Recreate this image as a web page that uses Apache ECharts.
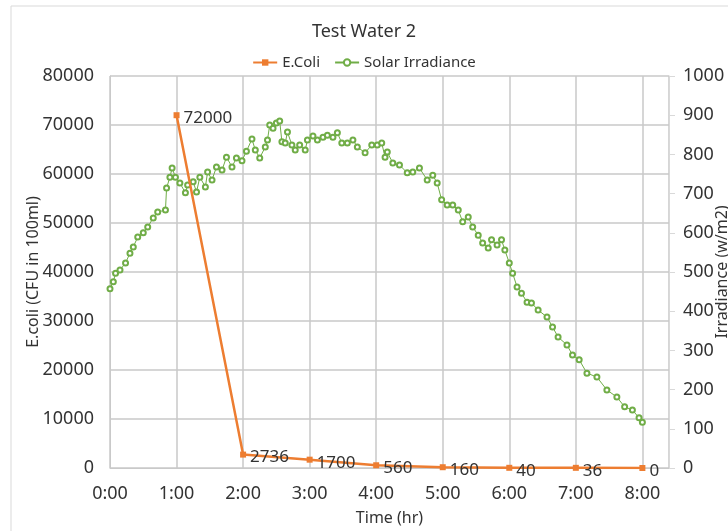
<!DOCTYPE html>
<html>
<head>
<meta charset="utf-8">
<title>Test Water 2</title>
<script src="https://cdn.jsdelivr.net/npm/echarts@6/dist/echarts.min.js"></script>
<style>
    html, body { margin: 0; padding: 0; background: #fff; }
    #main { width: 728px; height: 531px; }
</style>
</head>
<body>
<div id="main"></div>
<script>
// E.Coli samples (hours after start, CFU in 100ml)
var ecoliHours = [1, 2, 3, 4, 5, 6, 7, 8];
var ecoliCounts = [72000, 2736, 1700, 560, 160, 40, 36, 0];

// solar irradiance readings (minutes after start, w/m2)
var irrMinutes = [0, 3, 5, 9, 14, 18, 21, 25, 30, 34, 39, 43, 50, 51, 54, 56, 59, 63, 68, 70,
    75, 78, 81, 86, 88, 92, 96, 101, 105, 110, 114, 119, 123, 128, 131, 135, 140, 142, 144, 147,
    150, 153, 155, 158, 160, 164, 167, 171, 176, 178, 183, 187, 192, 196, 201, 205, 209, 214, 219, 223,
    230, 236, 241, 245, 248, 250, 255, 261, 268, 273, 279, 286, 291, 295, 299, 304, 309, 314, 318, 323,
    327, 332, 336, 341, 344, 349, 353, 356, 360, 363, 367, 371, 376, 380, 386, 394, 399, 404, 412, 417,
    423, 430, 439, 448, 457, 464, 471, 477, 480];
var irrValues = [457, 475, 497, 505, 523, 548, 564, 589, 600, 615, 638, 653, 658, 714, 742, 765, 742, 727, 702, 722,
    730, 704, 742, 717, 755, 735, 768, 760, 793, 768, 791, 784, 808, 839, 811, 791, 819, 837, 875, 867,
    880, 885, 832, 829, 857, 824, 811, 824, 811, 837, 847, 837, 844, 849, 844, 855, 829, 829, 837, 819,
    804, 824, 824, 829, 793, 806, 778, 773, 753, 755, 765, 735, 747, 727, 684, 671, 671, 658, 628, 640,
    615, 594, 574, 561, 582, 569, 582, 556, 523, 497, 462, 446, 423, 421, 403, 385, 360, 334, 314, 288,
    276, 242, 232, 199, 181, 156, 148, 128, 117];

var textColor = '#333';
var gridColor = '#c9c9c9';
var fontName = 'Noto Sans';

function buildPairs(xs, ys, scale) {
    var out = [];
    for (var i = 0; i < xs.length; i++) {
        out.push([xs[i] / scale, ys[i]]);
    }
    return out;
}

function plainNumber(v) {
    return String(v);
}

function testWater() {
    var chart = echarts.init(document.getElementById('main'));
    var option = {
        backgroundColor: '#fff',
        animation: false,
        textStyle: { fontFamily: fontName },
        title: {
            text: 'Test Water 2',
            left: 'center',
            top: 18,
            textStyle: { fontSize: 18, fontWeight: 'normal', color: textColor, fontFamily: fontName }
        },
        legend: {
            top: 50,
            left: 'center',
            itemWidth: 24,
            itemHeight: 8,
            itemGap: 14,
            textStyle: { fontSize: 15, color: textColor },
            data: ['E.Coli', 'Solar Irradiance']
        },
        graphic: [{
            type: 'rect',
            shape: { x: 11, y: 6, width: 760, height: 560 },
            style: { fill: 'none', stroke: '#d9d9d9', lineWidth: 1 },
            silent: true
        }],
        grid: { left: 110, right: 59, top: 76, bottom: 63, outerBoundsMode: 'none', containLabel: false },
        xAxis: {
            type: 'value',
            min: 0,
            max: 8.4,
            interval: 1,
            name: 'Time (hr)',
            nameLocation: 'middle',
            nameGap: 42,
            nameTextStyle: { fontSize: 16, color: textColor },
            axisLine: { show: true, lineStyle: { color: gridColor } },
            axisTick: { show: false },
            axisLabel: {
                fontSize: 18,
                color: textColor,
                margin: 17,
                showMaxLabel: false,
                formatter: function (v) {
                    return Math.abs(v - Math.round(v)) < 1e-6 ? Math.round(v) + ':00' : '';
                }
            },
            splitLine: { show: true, lineStyle: { color: gridColor, width: 1.5 } }
        },
        yAxis: [{
            type: 'value',
            min: 0,
            max: 80000,
            interval: 10000,
            name: 'E.coli (CFU in 100ml)',
            nameLocation: 'middle',
            nameGap: 69,
            nameMoveOverlap: false,
            nameTextStyle: { fontSize: 16, color: textColor },
            axisLine: { show: true, lineStyle: { color: gridColor } },
            axisTick: { show: false },
            axisLabel: { fontSize: 18, color: textColor, margin: 16, formatter: plainNumber },
            splitLine: { show: true, lineStyle: { color: gridColor, width: 1.5 } }
        }, {
            type: 'value',
            position: 'right',
            min: 0,
            max: 1000,
            interval: 100,
            name: 'Irradiance (w/m2)',
            nameLocation: 'middle',
            nameGap: 45,
            nameMoveOverlap: false,
            nameTextStyle: { fontSize: 16, color: textColor },
            axisLine: { show: true, lineStyle: { color: '#d9d9d9' } },
            axisTick: { show: true, inside: false, length: 6, lineStyle: { color: '#d9d9d9' } },
            axisLabel: { fontSize: 18, color: textColor, margin: 14, formatter: plainNumber },
            splitLine: { show: false }
        }],
        series: [{
            name: 'E.Coli',
            type: 'line',
            yAxisIndex: 0,
            z: 4,
            symbol: 'rect',
            symbolSize: 6,
            color: '#ED7D31',
            lineStyle: { color: '#ED7D31', width: 2.5 },
            itemStyle: { color: '#ED7D31' },
            label: {
                show: true,
                position: 'right',
                distance: 4,
                offset: [0, 3],
                fontSize: 17,
                color: textColor,
                formatter: function (p) { return p.value[1]; }
            },
            data: buildPairs(ecoliHours, ecoliCounts, 1)
        }, {
            name: 'Solar Irradiance',
            type: 'line',
            yAxisIndex: 1,
            z: 2,
            symbol: 'emptyCircle',
            symbolSize: 5,
            showAllSymbol: true,
            color: '#70AD47',
            lineStyle: { color: '#70AD47', width: 1 },
            itemStyle: { color: '#70AD47', borderWidth: 1 },
            data: buildPairs(irrMinutes, irrValues, 60)
        }]
    };
    chart.setOption(option);
    return chart;
}

testWater();
</script>
</body>
</html>
